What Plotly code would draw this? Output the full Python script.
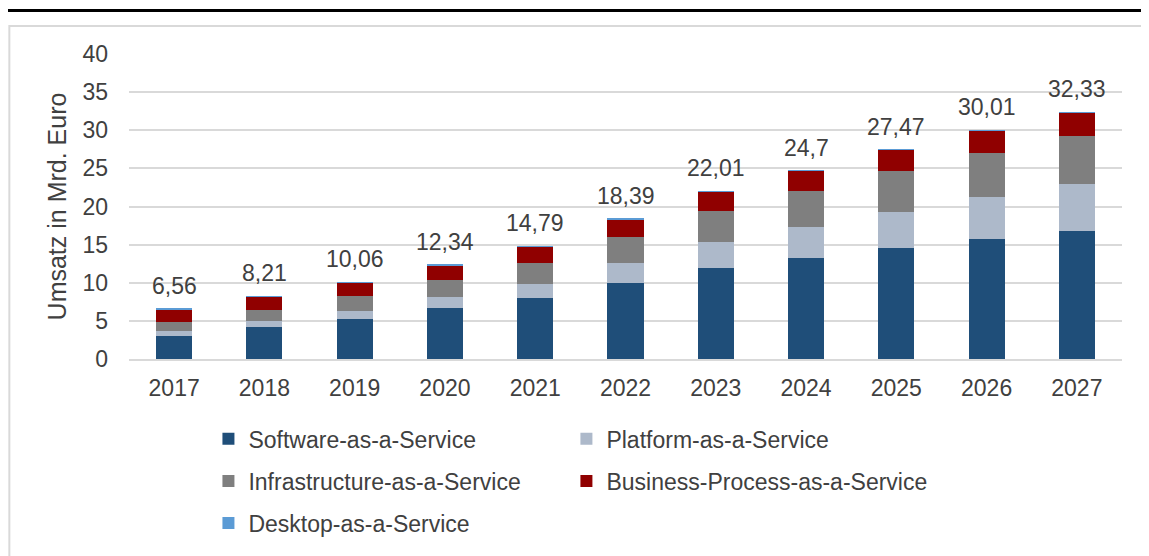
import plotly.graph_objects as go

#%% Data

years = ["2017", "2018", "2019", "2020", "2021", "2022", "2023", "2024", "2025", "2026", "2027"]

saas = [3.05, 4.2, 5.3, 6.73, 8.03, 10.0, 11.93, 13.2, 14.5, 15.71, 16.85]
paas = [0.6, 0.75, 1.05, 1.43, 1.82, 2.6, 3.47, 4.16, 4.82, 5.51, 6.15]
iaas = [1.21, 1.45, 1.86, 2.21, 2.69, 3.38, 4.04, 4.64, 5.34, 5.78, 6.31]
bpaas = [1.65, 1.75, 1.8, 1.93, 2.22, 2.38, 2.53, 2.66, 2.78, 2.96, 2.97]
daas = [0.05, 0.06, 0.05, 0.04, 0.03, 0.03, 0.04, 0.04, 0.03, 0.05, 0.05]

totals = [6.56, 8.21, 10.06, 12.34, 14.79, 18.39, 22.01, 24.7, 27.47, 30.01, 32.33]

# (name, values, colour, legend id, legend x, legend y)
series = [
    ("Software-as-a-Service", saas, "#1F4E79", "legend", 0.08, -0.262),
    ("Platform-as-a-Service", paas, "#ADB9CA", "legend2", 0.4405, -0.262),
    ("Infrastructure-as-a-Service", iaas, "#7F7F7F", "legend3", 0.08, -0.400),
    ("Business-Process-as-a-Service", bpaas, "#900000", "legend4", 0.4405, -0.400),
    ("Desktop-as-a-Service", daas, "#5B9BD5", "legend5", 0.08, -0.538),
]

FONT = "Liberation Sans, Arial, sans-serif"
TEXT = "#404040"
FS = 23

#%% Figure
# the page body adds an 8px margin, so the figure is 8px smaller than the window

fig = go.Figure()
legends = {}
for name, vals, color, leg, lx, ly in series:
    fig.add_trace(go.Bar(x=years, y=vals, name=name, marker_color=color,
                         marker_line_width=0, width=0.4, legend=leg))
    legends[leg] = dict(orientation="h", x=lx, xanchor="left", y=ly, yanchor="middle",
                        itemclick=False, bgcolor="rgba(0,0,0,0)",
                        font=dict(size=FS, color=TEXT, family=FONT))

# total labels; x given as category index so the numeric-looking years
# are not read as plain numbers
for i, total in enumerate(totals):
    fig.add_annotation(x=i, y=total, text=str(total).replace(".", ","),
                       showarrow=False, yanchor="bottom", yshift=8,
                       font=dict(size=FS, color=TEXT, family=FONT))

# page rule on top and the chart frame
fig.add_shape(type="line", xref="paper", yref="paper",
              x0=-0.1219, x1=1.03, y0=1.1424, y1=1.1424,
              line=dict(color="black", width=3))
fig.add_shape(type="rect", xref="paper", yref="paper",
              x0=-0.1205, x1=1.06, y0=-0.7, y1=1.0918,
              line=dict(color="#D9D9D9", width=2))

fig.update_layout(
    barmode="stack",
    showlegend=True,
    width=1141, height=548,
    margin=dict(l=121, r=27, t=46, b=186),
    plot_bgcolor="white", paper_bgcolor="white",
    font=dict(family=FONT, size=FS, color=TEXT),
    yaxis=dict(range=[0, 40], dtick=5, showgrid=True, gridcolor="#D9D9D9", gridwidth=1.5,
               zeroline=False, showline=False, ticklabelstandoff=20,
               tickfont=dict(size=FS, color=TEXT),
               title=dict(text="Umsatz in Mrd. Euro", font=dict(size=25, color=TEXT), standoff=8)),
    xaxis=dict(type="category", showline=True, linecolor="#D9D9D9", linewidth=1.5, ticks="",
               tickfont=dict(size=FS, color=TEXT), ticklabelstandoff=8),
    **legends,
)

fig.write_html("out.html")
